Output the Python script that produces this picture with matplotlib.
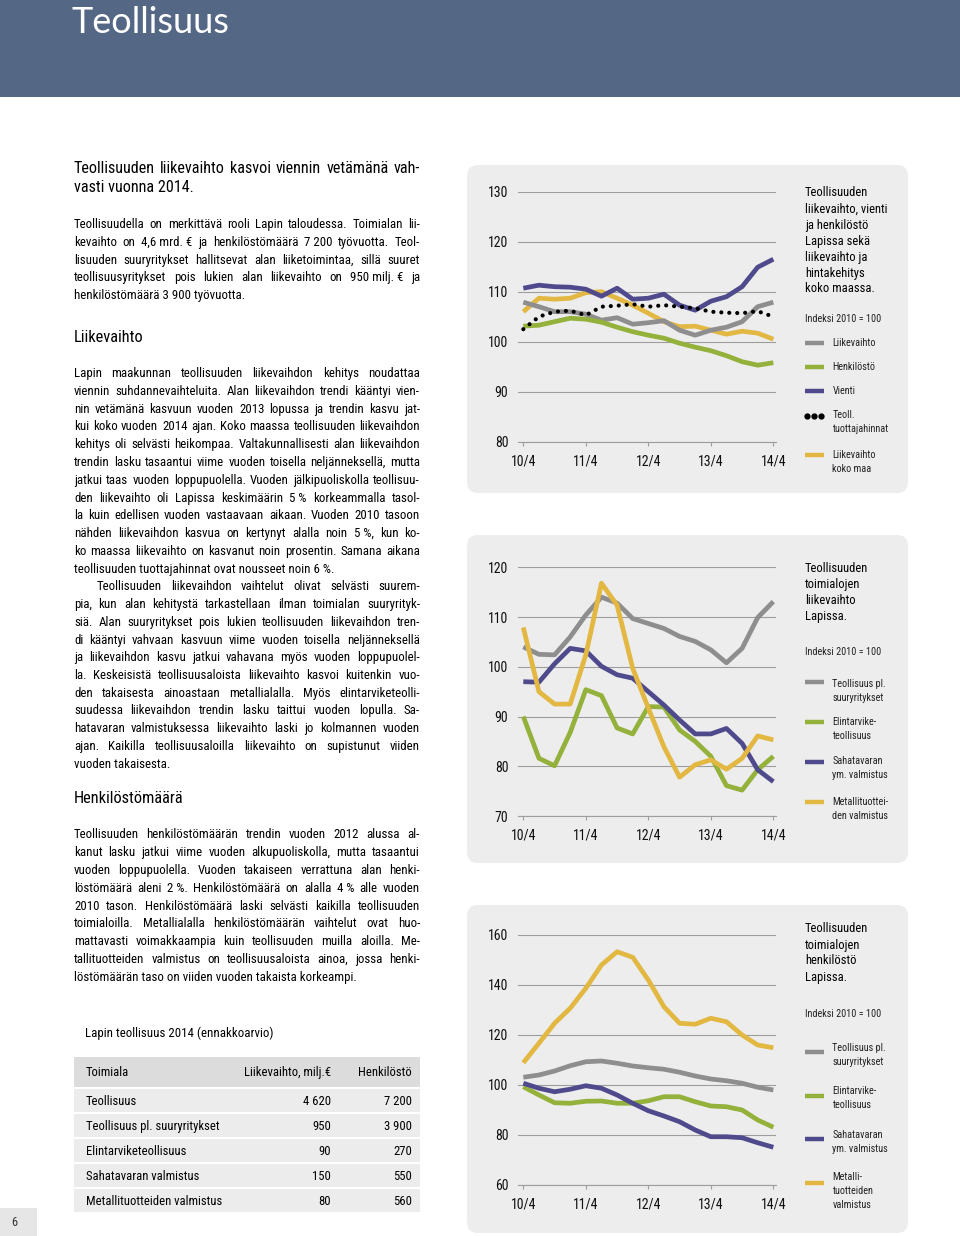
import matplotlib
matplotlib.use('Agg')
import matplotlib.pyplot as plt
import numpy as np
from matplotlib import font_manager as fm
from matplotlib.patches import FancyBboxPatch, Rectangle


def pick_condensed():
    # look for a narrow / condensed regular face among the installed fonts
    prefs = ['Roboto Condensed', 'Liberation Sans Narrow', 'Open Sans Condensed',
             'Noto Sans', 'DejaVu Sans', 'Roboto', 'Open Sans', 'Inter', 'Lato']
    found = []
    for f in fm.fontManager.ttflist:
        cond = (f.stretch in ('condensed', 'semi-condensed', 'extra-condensed')
                or 'Narrow' in f.name or 'Condensed' in f.name
                or 'ondensed' in f.fname)
        if cond and f.style == 'normal' and f.weight in (400, 'normal', 'regular'):
            rank = next((i for i, p in enumerate(prefs) if f.name.startswith(p)), 99)
            found.append((rank, f.name, f.stretch))
    if found:
        found.sort()
        return found[0][1], found[0][2]
    return 'DejaVu Sans', 'normal'


names = {f.name for f in fm.fontManager.ttflist}
NARROW, STRETCH = pick_condensed()
TITLE_FONT = 'Lato' if 'Lato' in names else 'DejaVu Sans'
plt.rcParams['font.family'] = [NARROW, 'DejaVu Sans']
plt.rcParams['font.stretch'] = STRETCH

# quarters 2010/4 ... 2014/4
quarters = ['10/4', '11/1', '11/2', '11/3', '11/4', '12/1', '12/2', '12/3', '12/4',
            '13/1', '13/2', '13/3', '13/4', '14/1', '14/2', '14/3', '14/4']

# Chart 1: Lapland industry turnover, exports, staff, prices (index 2010 = 100)
ch1_liikevaihto = [107.9, 107.0, 106.0, 106.0, 105.5, 104.3, 104.8, 103.5, 103.8,
                   104.2, 102.3, 101.3, 102.3, 102.9, 104.0, 107.0, 107.9]
ch1_henkilosto = [103.1, 103.3, 104.0, 104.7, 104.5, 103.9, 102.9, 102.0, 101.3,
                  100.7, 99.7, 98.9, 98.2, 97.2, 96.0, 95.3, 95.8]
ch1_vienti = [110.7, 111.3, 111.0, 110.9, 110.5, 109.1, 110.7, 108.5, 108.7,
              109.5, 107.3, 106.3, 108.1, 109.0, 111.0, 114.9, 116.5]
ch1_tuottajahinnat = [102.5, 105.0, 106.0, 106.2, 105.3, 107.0, 107.2, 107.5, 107.0,
                      107.3, 107.0, 106.7, 106.0, 105.8, 105.7, 106.1, 105.0]
ch1_koko_maa = [106.0, 108.7, 108.5, 108.7, 109.8, 110.0, 108.7, 107.3, 105.7,
                104.0, 103.0, 103.1, 102.3, 101.5, 102.1, 101.7, 100.5]

# Chart 2: turnover by branch
ch2_teoll_pl = [104.0, 102.5, 102.4, 106.0, 110.4, 114.0, 112.8, 109.7, 108.7,
                107.7, 106.1, 105.1, 103.4, 100.8, 103.7, 109.9, 113.1]
ch2_elintarvike = [90.0, 81.6, 80.1, 86.8, 95.4, 94.2, 87.7, 86.5, 92.0,
                   91.9, 87.3, 85.0, 82.0, 76.1, 75.2, 79.3, 82.0]
ch2_sahatavara = [97.0, 96.9, 100.6, 103.7, 103.2, 100.1, 98.4, 97.7, 95.0,
                  92.3, 89.3, 86.5, 86.5, 87.6, 84.6, 79.3, 76.9]
ch2_metalli = [107.9, 95.0, 92.5, 92.5, 102.4, 116.8, 112.4, 99.7, 91.7,
               83.9, 77.8, 80.3, 81.3, 79.4, 81.6, 86.1, 85.3]

# Chart 3: staff by branch
ch3_teoll_pl = [103.1, 104.0, 105.6, 107.7, 109.3, 109.6, 108.7, 107.6, 106.9,
                106.3, 105.1, 103.6, 102.4, 101.7, 100.7, 99.1, 98.0]
ch3_elintarvike = [99.3, 96.0, 92.9, 92.7, 93.5, 93.6, 92.7, 92.7, 93.7,
                   95.3, 95.3, 93.3, 91.6, 91.3, 90.0, 86.0, 83.1]
ch3_sahatavara = [100.7, 98.7, 97.3, 98.3, 99.7, 98.7, 96.0, 92.7, 89.7,
                  87.6, 85.3, 82.0, 79.3, 79.3, 78.9, 76.9, 75.1]
ch3_metalli = [108.9, 116.7, 124.7, 130.7, 138.7, 148.0, 153.3, 151.1, 142.0,
               131.3, 124.7, 124.3, 126.7, 125.3, 120.0, 116.0, 114.9]

# Table
table_header = ['Toimiala', 'Liikevaihto, milj.€', 'Henkilöstö']
table_rows = ['Teollisuus', 'Teollisuus pl. suuryritykset', 'Elintarviketeollisuus',
              'Sahatavaran valmistus', 'Metallituotteiden valmistus']
table_liikevaihto = ['4 620', '950', '90', '150', '80']
table_henkilosto = ['7 200', '3 900', '270', '550', '560']

NB = '\u00a0'
heading = ['Teollisuuden liikevaihto kasvoi viennin vetämänä vah-',
           'vasti vuonna 2014.']
para1 = ['Teollisuudella on merkittävä rooli Lapin taloudessa. Toimialan lii-',
         f'kevaihto on 4,6{NB}mrd.{NB}€ ja henkilöstömäärä 7{NB}200 työvuotta. Teol-',
         'lisuuden suuryritykset hallitsevat alan liiketoimintaa, sillä suuret',
         f'teollisuusyritykset pois lukien alan liikevaihto on 950{NB}milj.{NB}€ ja',
         f'henkilöstömäärä 3{NB}900 työvuotta.']
para2 = ['Lapin maakunnan teollisuuden liikevaihdon kehitys noudattaa',
         'viennin suhdannevaihteluita. Alan liikevaihdon trendi kääntyi vien-',
         'nin vetämänä kasvuun vuoden 2013 lopussa ja trendin kasvu jat-',
         'kui koko vuoden 2014 ajan. Koko maassa teollisuuden liikevaihdon',
         'kehitys oli selvästi heikompaa. Valtakunnallisesti alan liikevaihdon',
         'trendin lasku tasaantui viime vuoden toisella neljänneksellä, mutta',
         'jatkui taas vuoden loppupuolella. Vuoden jälkipuoliskolla teollisuu-',
         f'den liikevaihto oli Lapissa keskimäärin 5{NB}% korkeammalla tasol-',
         'la kuin edellisen vuoden vastaavaan aikaan. Vuoden 2010 tasoon',
         f'nähden liikevaihdon kasvua on kertynyt alalla noin 5{NB}%, kun ko-',
         'ko maassa liikevaihto on kasvanut noin prosentin. Samana aikana',
         f'teollisuuden tuottajahinnat ovat nousseet noin 6{NB}%.']
para3 = ['Teollisuuden liikevaihdon vaihtelut olivat selvästi suurem-',
         'pia, kun alan kehitystä tarkastellaan ilman toimialan suuryrityk-',
         'siä. Alan suuryritykset pois lukien teollisuuden liikevaihdon tren-',
         'di kääntyi vahvaan kasvuun viime vuoden toisella neljänneksellä',
         'ja liikevaihdon kasvu jatkui vahavana myös vuoden loppupuolel-',
         'la. Keskeisistä teollisuusaloista liikevaihto kasvoi kuitenkin vuo-',
         'den takaisesta ainoastaan metallialalla. Myös elintarviketeolli-',
         'suudessa liikevaihdon trendin lasku taittui vuoden lopulla. Sa-',
         'hatavaran valmistuksessa liikevaihto laski jo kolmannen vuoden',
         'ajan. Kaikilla teollisuusaloilla liikevaihto on supistunut viiden',
         'vuoden takaisesta.']
para4 = ['Teollisuuden henkilöstömäärän trendin vuoden 2012 alussa al-',
         'kanut lasku jatkui viime vuoden alkupuoliskolla, mutta tasaantui',
         'vuoden loppupuolella. Vuoden takaiseen verrattuna alan henki-',
         f'löstömäärä aleni 2{NB}%. Henkilöstömäärä on alalla 4{NB}% alle vuoden',
         '2010 tason. Henkilöstömäärä laski selvästi kaikilla teollisuuden',
         'toimialoilla. Metallialalla henkilöstömäärän vaihtelut ovat huo-',
         'mattavasti voimakkaampia kuin teollisuuden muilla aloilla. Me-',
         'tallituotteiden valmistus on teollisuusaloista ainoa, jossa henki-',
         'löstömäärän taso on viiden vuoden takaista korkeampi.']

GRAY = '#8e8e8e'
GREEN = '#93b13b'
PURPLE = '#4e4a8c'
YELLOW = '#e2b843'
GRID = '#9d9d9d'
PANEL = '#ededed'
INK = '#000000'

W, H = 960, 1236
fig = plt.figure(figsize=(W / 100, H / 100), dpi=100)
page = fig.add_axes([0, 0, 1, 1], zorder=0)
page.set_xlim(0, W)
page.set_ylim(H, 0)
page.axis('off')
renderer = fig.canvas.get_renderer()

# header band
page.add_patch(Rectangle((0, 0), W, 97, fc='#546784', ec='none'))
page.text(71, 33, 'Teollisuus', family=TITLE_FONT, fontsize=26, color='white',
          va='baseline', stretch='normal')

# page number
page.add_patch(Rectangle((0, 1208), 37, 28, fc='#e6e6e6', ec='none'))
page.text(14, 1222, '6', fontsize=9, color='#333333', va='center', ha='center')


def natural_width(line, size):
    t = page.text(0, 0, line, fontsize=size)
    w = t.get_window_extent(renderer).width
    t.remove()
    return w


def fit_size(lines, base, width):
    widest = max(natural_width(l, base) for l in lines[:-1])
    return min(base, base * width / (widest + 6))


def put_lines(lines, x0, x1, y0, dy, size, indent=0):
    for i, line in enumerate(lines):
        y = y0 + i * dy
        xs = x0 + (indent if i == 0 else 0)
        words = line.split(' ')
        if i == len(lines) - 1 or len(words) == 1:
            page.text(xs, y, line, fontsize=size, va='baseline', color=INK)
            continue
        arts = [page.text(0, y, w, fontsize=size, va='baseline', color=INK)
                for w in words]
        ws = [a.get_window_extent(renderer).width for a in arts]
        gap = (x1 - xs - sum(ws)) / (len(words) - 1)
        x = xs
        for a, w in zip(arts, ws):
            a.set_x(x)
            x += w + gap


X0, X1 = 74, 420
body_size = fit_size(para1 + para2 + para3 + para4, 10.6, X1 - X0)
head_size = fit_size(heading, 12, X1 - X0)

put_lines(heading, X0, X1, 173, 19.5, head_size)
put_lines(para1, X0, X1, 228, 17.8, body_size)
page.text(X0, 342, 'Liikevaihto', fontsize=11.8, va='baseline', color=INK)
put_lines(para2, X0, X1, 377, 17.8, body_size)
put_lines(para3, X0, X1, 590.5, 17.7, body_size, indent=23)
page.text(X0, 803, 'Henkilöstömäärä', fontsize=11.8, va='baseline', color=INK)
put_lines(para4, X0, X1, 838.5, 17.75, body_size)

# table
TS = 9.1
page.text(85, 1037, 'Lapin teollisuus 2014 (ennakkoarvio)', fontsize=9.3,
          va='baseline', color=INK)
page.add_patch(Rectangle((74, 1057), 346, 30, fc='#dcdcdc', ec='none'))
page.text(86, 1076, table_header[0], fontsize=TS, va='baseline', color=INK)
page.text(331, 1076, table_header[1], fontsize=TS, va='baseline', ha='right', color=INK)
page.text(412, 1076, table_header[2], fontsize=TS, va='baseline', ha='right', color=INK)
for i, (name, lv, hk) in enumerate(zip(table_rows, table_liikevaihto, table_henkilosto)):
    top = 1089 + i * 25
    page.add_patch(Rectangle((74, top), 346, 23, fc='#ececec', ec='none'))
    yb = top + 16
    page.text(86, yb, name, fontsize=TS, va='baseline', color=INK)
    page.text(331, yb, lv.replace(' ', NB), fontsize=TS, va='baseline', ha='right', color=INK)
    page.text(412, yb, hk.replace(' ', NB), fontsize=TS, va='baseline', ha='right', color=INK)

# chart panels
for top in (165, 535, 905):
    page.add_patch(FancyBboxPatch((467, top), 441, 328,
                                  boxstyle='round,pad=0,rounding_size=11',
                                  fc=PANEL, ec='none'))

x = np.arange(len(quarters))
year_idx = [i for i, q in enumerate(quarters) if q.endswith('/4')]


def chart(top, bottom, ylim, yticks, series):
    left, right = 518, 776
    ax = fig.add_axes([left / W, 1 - bottom / H, (right - left) / W, (bottom - top) / H],
                      zorder=2)
    ax.set_facecolor('none')
    for s in ('top', 'right', 'left'):
        ax.spines[s].set_visible(False)
    ax.spines['bottom'].set_color(GRID)
    ax.spines['bottom'].set_linewidth(0.8)
    ax.set_ylim(*ylim)
    ax.set_xlim(-0.34, 16.17)
    ax.set_yticks(yticks)
    ax.yaxis.grid(True, color=GRID, lw=0.8)
    ax.set_axisbelow(True)
    ax.set_xticks(year_idx)
    ax.set_xticklabels([quarters[i] for i in year_idx])
    ax.tick_params(axis='y', length=0, pad=7, labelsize=10, labelcolor='#111111')
    ax.tick_params(axis='x', length=3, width=0.8, color=GRID, pad=6,
                   labelsize=10, labelcolor='#111111')
    for vals, color, style in series:
        if style == 'dots':
            ax.plot(x, vals, color='black', lw=3, linestyle=(0, (0.01, 1.9)),
                    dash_capstyle='round')
        else:
            ax.plot(x, vals, color=color, lw=3.4, solid_capstyle='butt',
                    solid_joinstyle='round')
    return ax


chart(191.7, 441.7, (80, 130), range(80, 131, 10),
      [(ch1_koko_maa, YELLOW, '-'), (ch1_liikevaihto, GRAY, '-'),
       (ch1_henkilosto, GREEN, '-'), (ch1_vienti, PURPLE, '-'),
       (ch1_tuottajahinnat, None, 'dots')])
chart(567.3, 816, (70, 120), range(70, 121, 10),
      [(ch2_teoll_pl, GRAY, '-'), (ch2_elintarvike, GREEN, '-'),
       (ch2_sahatavara, PURPLE, '-'), (ch2_metalli, YELLOW, '-')])
chart(935, 1185, (60, 160), range(60, 161, 20),
      [(ch3_teoll_pl, GRAY, '-'), (ch3_elintarvike, GREEN, '-'),
       (ch3_sahatavara, PURPLE, '-'), (ch3_metalli, YELLOW, '-')])


# legends
LEG_TITLE = fit_size(['liikevaihto, vienti', ''], 11.5, 87)
LEG_ITEM = fit_size(['tuottajahinnat', ''], 10, 60)
LEG_IDX = fit_size(['Indeksi 2010 = 100', ''], 9.5, 80)


def legend_title(lines, y0, dy=16):
    for i, l in enumerate(lines):
        page.text(805, y0 + i * dy, l, fontsize=LEG_TITLE, va='center', color=INK)


def legend_item(color, lines, ytext, yline, dots=False):
    if dots:
        page.plot([806.5, 813.5, 820.5], [yline] * 3, 'o', color='black', ms=3.5)
    else:
        page.plot([805, 824], [yline, yline], color=color, lw=3.2, solid_capstyle='butt')
    for i, l in enumerate(lines):
        page.text(832.5, ytext + i * 14, l, fontsize=LEG_ITEM, va='center', color='#222222')


legend_title(['Teollisuuden', 'liikevaihto, vienti', 'ja henkilöstö', 'Lapissa sekä',
              'liikevaihto ja', 'hintakehitys', 'koko maassa.'], 193)
page.text(805, 319, 'Indeksi 2010 = 100', fontsize=LEG_IDX, va='center', color='#222222')
legend_item(GRAY, ['Liikevaihto'], 343, 343)
legend_item(GREEN, ['Henkilöstö'], 367, 367)
legend_item(PURPLE, ['Vienti'], 391, 391)
legend_item(None, ['Teoll.', 'tuottajahinnat'], 415.5, 415.5, dots=True)
legend_item(YELLOW, ['Liikevaihto', 'koko maa'], 455, 455)

legend_title(['Teollisuuden', 'toimialojen', 'liikevaihto', 'Lapissa.'], 568, 16.3)
page.text(805, 652, 'Indeksi 2010 = 100', fontsize=LEG_IDX, va='center', color='#222222')
legend_item(GRAY, ['Teollisuus pl.', 'suuryritykset'], 684, 682)
legend_item(GREEN, ['Elintarvike-', 'teollisuus'], 722, 722)
legend_item(PURPLE, ['Sahatavaran', 'ym. valmistus'], 761, 762)
legend_item(YELLOW, ['Metallituottei-', 'den valmistus'], 802, 802)

legend_title(['Teollisuuden', 'toimialojen', 'henkilöstö', 'Lapissa.'], 929, 16)
page.text(805, 1014, 'Indeksi 2010 = 100', fontsize=LEG_IDX, va='center', color='#222222')
legend_item(GRAY, ['Teollisuus pl.', 'suuryritykset'], 1048, 1052)
legend_item(GREEN, ['Elintarvike-', 'teollisuus'], 1090.5, 1096)
legend_item(PURPLE, ['Sahatavaran', 'ym. valmistus'], 1135, 1139)
legend_item(YELLOW, ['Metalli-', 'tuotteiden', 'valmistus'], 1177, 1183)

fig.savefig('out.png', dpi=100)
